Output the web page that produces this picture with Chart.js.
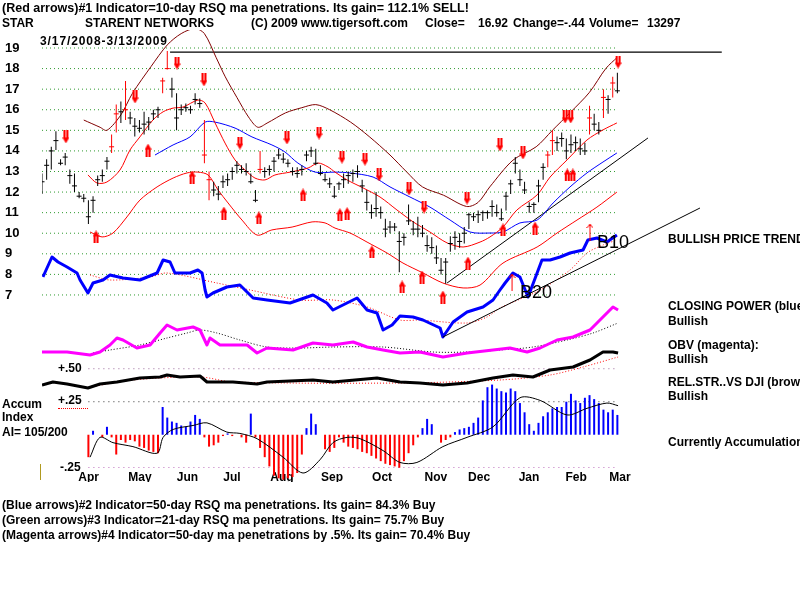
<!DOCTYPE html>
<html>
<head>
<meta charset="utf-8">
<script src="https://cdn.jsdelivr.net/npm/chart.js@4.4.0/dist/chart.umd.min.js"></script>
<style>
  body { margin: 0; background: #fff; }
  #wrap { position: relative; width: 800px; height: 600px; overflow: hidden; }
  canvas { position: absolute; left: 0; top: 0; }
  .t { position: absolute; font: bold 12px "Liberation Sans", Arial, sans-serif; line-height: 14px; white-space: pre; color: #000; }
  .big { position: absolute; font: 18px "Liberation Sans", Arial, sans-serif; line-height: 20px; color: #000; }
</style>
</head>
<body>
<div id="wrap">
  <canvas id="chart" width="800" height="600"></canvas>

  <div class="t" style="left:2px;top:1px;font-size:12.5px">(Red arrows)#1 Indicator=10-day RSQ ma penetrations. Its gain= 112.1% SELL!</div>
  <div class="t" style="left:2px;top:16px">STAR</div>
  <div class="t" style="left:85px;top:16px">STARENT NETWORKS</div>
  <div class="t" style="left:251px;top:16px">(C) 2009 www.tigersoft.com</div>
  <div class="t" style="left:425px;top:16px">Close=</div>
  <div class="t" style="left:478px;top:16px">16.92</div>
  <div class="t" style="left:513px;top:16px">Change=-.44</div>
  <div class="t" style="left:589px;top:16px">Volume=</div>
  <div class="t" style="left:647px;top:16px">13297</div>
  <div class="t" style="left:40px;top:34px;letter-spacing:0.9px">3/17/2008-3/13/2009</div>

  <div class="big" style="left:597px;top:232px">B10</div>
  <div class="big" style="left:520px;top:282px">B20</div>

  <div class="t" style="left:668px;top:232px">BULLISH PRICE TREND</div>
  <div class="t" style="left:668px;top:299px">CLOSING POWER (blue)</div>
  <div class="t" style="left:668px;top:314px">Bullish</div>
  <div class="t" style="left:668px;top:338px">OBV (magenta):</div>
  <div class="t" style="left:668px;top:352px">Bullish</div>
  <div class="t" style="left:668px;top:375px">REL.STR..VS DJI (brown)</div>
  <div class="t" style="left:668px;top:389px">Bullish</div>
  <div class="t" style="left:668px;top:435px">Currently Accumulation</div>

  <div class="t" style="left:2px;top:397px">Accum</div>
  <div class="t" style="left:2px;top:410px">Index</div>
  <div class="t" style="left:2px;top:425px">AI= 105/200</div>
  <div class="t" style="left:58px;top:361px">+.50</div>
  <div class="t" style="left:58px;top:393px">+.25</div>
  <div class="t" style="left:60px;top:460px">-.25</div>
  <div style="position:absolute;left:58px;top:408px;width:30px;border-top:1px dotted #ff0000"></div>
  <div style="position:absolute;left:40px;top:464px;width:1px;height:16px;background:#b09a20"></div>

  <div class="t" style="left:2px;top:498px">(Blue arrows)#2 Indicator=50-day RSQ ma penetrations. Its gain= 84.3% Buy</div>
  <div class="t" style="left:2px;top:513px">(Green arrows)#3 Indicator=21-day RSQ ma penetrations. Its gain= 75.7% Buy</div>
  <div class="t" style="left:2px;top:528px">(Magenta arrows)#4 Indicator=50-day ma penetrations by .5%. Its gain= 70.4% Buy</div>
</div>

<script>
// x is the trading-day index from 3/17/2008 (0) to 3/13/2009 (~249)
const monthLabels = ['Apr', 'May', 'Jun', 'Jul', 'Aug', 'Sep', 'Oct', 'Nov', 'Dec', 'Jan', 'Feb', 'Mar'];
const monthTicks = [20.1, 42.2, 62.7, 81.9, 103.4, 125, 146.6, 169.8, 188.4, 209.9, 230.2, 249.1];
const priceTicks = [7, 8, 9, 10, 11, 12, 13, 14, 15, 16, 17, 18, 19];

// daily bars, one every 2 trading days
const highs = [
  12.9, 13.6, 14.2, 14.95, 13.6, 13.9, 13.1, 12.9, 12.0, 11.9,
  11.6, 11.8, 12.8, 13.1, 13.7, 14.8, 16.25, 16.4, 17.4, 15.9,
  15.6, 15.5, 15.9, 15.65, 16.0, 16.15, 17.55, 18.85, 17.55, 16.8,
  16.25, 16.3, 16.2, 16.8, 16.55, 15.5, 13.0, 12.5, 12.3, 12.8,
  12.9, 13.2, 13.5, 13.3, 13.4, 12.9, 12.1, 14.0, 13.2, 13.3,
  13.7, 14.1, 13.9, 13.6, 13.2, 13.2, 13.3, 14.0, 14.2, 14.1,
  13.3, 12.9, 12.7, 12.3, 12.5, 12.9, 13.0, 13.1, 13.3, 12.6,
  12.1, 11.4, 12.0, 11.3, 10.7, 10.6, 10.5, 10.1, 10.0, 11.4,
  10.6, 10.8, 10.4, 9.9, 9.8, 9.4, 8.8, 8.8, 9.85, 10.1,
  10.0, 10.3, 11.0, 11.0, 11.1, 11.1, 11.1, 11.6, 11.4, 11.2,
  12.0, 12.6, 13.7, 13.1, 12.5, 11.5, 11.5, 12.6, 13.4, 14.0,
  15.0, 14.7, 14.9, 14.6, 14.8, 14.7, 14.6, 14.4, 16.2, 15.8,
  15.4, 17.0, 16.7, 17.6, 17.8
];
const lows = [
  11.9, 12.6, 13.1, 14.05, 13.3, 13.3, 12.4, 12.0, 11.7, 11.5,
  10.45, 11.0, 12.3, 12.5, 13.1, 13.9, 14.9, 15.35, 15.5, 15.3,
  14.7, 14.9, 14.8, 15.0, 15.5, 15.6, 16.8, 17.95, 16.6, 15.0,
  15.75, 15.9, 15.8, 16.25, 16.1, 13.4, 11.6, 11.8, 11.6, 12.2,
  12.3, 12.6, 12.9, 12.9, 12.8, 12.4, 11.5, 12.9, 12.7, 12.8,
  13.0, 13.6, 13.4, 13.2, 12.8, 12.7, 12.8, 13.5, 13.7, 13.3,
  12.8, 12.5, 12.2, 11.7, 12.1, 12.2, 12.4, 12.5, 12.7, 12.0,
  11.1, 10.7, 10.8, 10.7, 9.8, 10.0, 10.1, 8.1, 9.4, 10.4,
  9.9, 9.8, 9.8, 9.1, 9.0, 8.5, 8.0, 7.55, 9.1, 9.2,
  9.3, 9.5, 10.2, 10.6, 10.5, 10.6, 10.7, 10.8, 10.8, 10.6,
  11.1, 11.9, 12.9, 12.3, 11.9, 11.0, 11.0, 11.5, 12.6, 13.2,
  13.8, 14.0, 14.2, 13.6, 13.9, 14.0, 13.8, 13.8, 14.8, 15.0,
  14.8, 15.6, 15.8, 16.6, 16.8
];
const closes = [
  12.5, 13.3, 14.0, 14.5, 13.4, 13.7, 12.8, 12.3, 11.8, 11.7,
  10.8, 11.6, 12.6, 12.8, 13.5, 14.2, 15.8, 15.9, 16.0, 15.6,
  15.2, 15.1, 15.3, 15.4, 15.8, 16.0, 17.4, 18.0, 17.0, 15.6,
  16.0, 16.1, 16.0, 16.5, 16.3, 13.8, 12.6, 12.1, 11.9, 12.5,
  12.6, 13.0, 13.3, 13.1, 13.0, 12.5, 11.6, 13.1, 13.0, 13.1,
  13.5, 13.8, 13.6, 13.4, 13.0, 12.9, 13.1, 13.8, 14.0, 13.4,
  12.9, 12.6, 12.4, 11.8, 12.4, 12.6, 12.8, 12.9, 13.0, 12.3,
  11.5, 11.0, 11.2, 11.0, 10.2, 10.3, 10.3, 9.6, 9.8, 10.6,
  10.2, 10.2, 10.0, 9.4, 9.3, 8.8, 8.2, 8.6, 9.5, 9.8,
  9.6, 10.0, 10.9, 10.8, 10.9, 11.0, 11.0, 11.3, 11.0, 10.7,
  11.8, 12.4, 13.4, 12.6, 12.1, 11.3, 11.4, 12.3, 13.2, 13.8,
  14.5, 14.4, 14.6, 14.0, 14.3, 14.4, 14.1, 14.0, 15.6, 15.3,
  15.0, 16.6, 16.5, 17.3, 16.92
];
const redBars = [30, 32, 36, 52, 54, 70, 72, 94, 218, 220, 236, 242, 246];

// bands and moving averages, [day, price]
const upperBand = [[18, 15.5], [25, 15.15], [28, 15.0], [34, 15.75], [39, 16.8], [47, 18.1], [54, 19.15], [60, 19.7], [66, 19.95], [70, 19.7], [75, 18.55], [79, 17.6], [84, 16.6], [89, 15.65], [93, 15.15], [97, 15.35], [105, 15.85], [112, 16.1], [118, 16.25], [124, 16.0], [133, 15.4], [141, 14.7], [150, 13.8], [157, 13.0], [164, 12.25], [173, 11.85], [183, 11.3], [188, 11.5], [193, 12.25], [203, 13.55], [213, 14.2], [220, 15.0], [228, 15.9], [236, 16.85], [243, 18.0], [248, 18.55]];
const midBand = [[19.8, 12.83], [23.7, 12.44], [28, 12.49], [33.6, 13.07], [37.9, 14.04], [42.2, 14.68], [47.8, 15.5], [52.2, 15.9], [56.5, 16.08], [60.8, 16.13], [67.2, 16.47], [70.3, 16.33], [74.6, 15.36], [78.9, 14.38], [83.2, 13.56], [87.5, 13.07], [91.8, 12.68], [96.1, 12.59], [100.4, 12.83], [107, 12.97], [114.7, 13.17], [119, 13.41], [123.3, 13.22], [126.3, 12.97], [131.5, 12.59], [138.4, 12.2], [145.7, 11.76], [153, 11.13], [160, 10.55], [167.2, 10.06], [174.6, 9.53], [181.5, 9.33], [188.8, 9.57], [193.1, 9.82], [198.7, 10.3], [204.7, 11.13], [213.4, 11.86], [219, 12.73], [226.3, 13.56], [234.9, 14.53], [241.8, 15.02], [247.8, 15.36]];
const lowerBand = [[20.7, 10.06], [25.9, 9.82], [30.6, 10.01], [36.6, 10.79], [42.2, 11.61], [49.6, 12.25], [56.5, 12.68], [62.5, 12.93], [67.2, 12.97], [71.6, 12.83], [75.9, 12.1], [80.2, 11.47], [86.2, 10.64], [92.7, 9.91], [99.1, 10.16], [107.8, 10.3], [116.4, 10.55], [122, 10.5], [126.3, 10.25], [132.8, 10.01], [140.1, 9.57], [148.7, 9.04], [155.6, 8.55], [164.2, 8.07], [172.8, 7.58], [181.5, 7.34], [188.8, 7.48], [198.7, 8.55], [213.4, 9.33], [222, 10.01], [230.6, 10.64], [239.2, 11.27], [247.8, 12.0]];
const ma50 = [[48.7, 13.8], [56.5, 14.29], [63.8, 14.68], [70.3, 15.4], [74.6, 15.4], [83.2, 15.11], [90.5, 14.68], [99.1, 14.29], [104.7, 13.95], [110.3, 13.41], [117.7, 12.97], [126.3, 12.97], [132.8, 12.93], [142.7, 12.73], [150, 12.25], [158.6, 11.76], [167.2, 11.27], [175.9, 10.64], [184.5, 10.06], [193.1, 10.01], [198.7, 10.06], [206, 10.5], [213.4, 10.64], [220.3, 11.47], [227.6, 12.25], [234.9, 12.93], [241.8, 13.46], [247.8, 13.9]];

// indicators, [day, value]
const closingPower = [[0.4, 73], [4.3, 93], [6.9, 88], [10.8, 83], [15.1, 77], [16.4, 70], [19.8, 57], [22, 67], [26.3, 70], [29.3, 75], [34.9, 72], [42.2, 70], [49.6, 77], [52.2, 90], [55.2, 88], [57.3, 77], [63.8, 77], [67.2, 80], [69, 77], [70.3, 60], [71.1, 53], [73.7, 57], [79.7, 63], [85.3, 65], [91, 52], [97, 50], [106.9, 47], [116.8, 55], [122.8, 47], [125.4, 40], [135.8, 52], [140.1, 40], [144.4, 37], [147, 20], [150.9, 25], [154.3, 34], [159.9, 33], [164.2, 30], [171.6, 22], [172.8, 13], [177.2, 28], [183.2, 38], [190.1, 43], [194.4, 50], [197.4, 60], [199.6, 67], [203, 77], [206, 73], [209.5, 53], [213.4, 77], [215.5, 90], [219, 90], [223.3, 93], [227.6, 97], [233.2, 100], [235.3, 110], [239.2, 112], [243.5, 108], [247.8, 115]];
const closingPowerMa = [[20.7, 75], [29.3, 70], [46.6, 73], [53.9, 77], [75.4, 67], [89.7, 60], [111.2, 50], [125.4, 50], [140.1, 43], [154.3, 30], [162.9, 30], [183.2, 27], [191.8, 33], [197.4, 42], [214.7, 60], [227.6, 80], [234.9, 97], [241.8, 105], [247.8, 110]];
const obv = [[0, 18], [10.8, 18], [20.7, 15], [25, 18], [29.3, 25], [32.3, 32], [34.9, 30], [40.9, 22], [46.6, 25], [50.9, 37], [53.9, 45], [58.2, 40], [65.1, 43], [68.1, 40], [71.1, 25], [72.4, 32], [76.7, 25], [88.4, 25], [92.7, 17], [97, 22], [108.2, 20], [116.8, 27], [125.4, 25], [134.1, 28], [140.1, 23], [147, 20], [154.3, 17], [162.9, 18], [172.8, 13], [183.2, 17], [194.4, 20], [201.7, 22], [209.1, 18], [214.7, 22], [222, 30], [228.9, 33], [236.2, 40], [240.5, 50], [246.1, 63], [248.3, 60]];
const obvMa = [[22, 17], [29.3, 20], [42.2, 25], [53.9, 32], [62.5, 37], [68.1, 40], [75.4, 37], [85.3, 30], [97, 23], [111.2, 22], [125.4, 23], [147, 23], [168.5, 18], [183.2, 18], [197.4, 20], [211.6, 23], [226.3, 30], [237.5, 37], [248.3, 47]];
const relStr = [[0, 15], [4.7, 18], [10.8, 16], [19.8, 12], [25, 16], [32.3, 18], [42.2, 22], [50.9, 23], [53.9, 25], [59.5, 23], [68.1, 24], [71.1, 18], [82.3, 18], [92.7, 16], [97, 18], [116.8, 20], [125.4, 18], [144.4, 22], [154.3, 18], [162.9, 17], [172.8, 15], [183.2, 17], [194.4, 22], [203, 25], [211.6, 23], [219, 30], [228.9, 33], [236.2, 40], [241.8, 48], [246.1, 48], [248.3, 47]];
const relStrMa = [[20.7, 13], [39.2, 20], [68.1, 23], [82.3, 18], [154.3, 17], [197.4, 20], [219, 25], [233.2, 33], [248.3, 43]];

// accumulation index, every 2 days from day 20
const accumStart = 20;
const accum = [
  -0.17, 0.03, 0.0, -0.02, 0.06, -0.02, -0.15, -0.04, -0.06, -0.04,
  -0.05, -0.09, -0.10, -0.12, -0.13, -0.14, 0.21, 0.13, 0.10, 0.09,
  0.07, 0.06, 0.10, 0.15, 0.12, -0.02, -0.09, -0.08, -0.06, -0.01,
  0.01, -0.01, 0.0, -0.02, -0.06, 0.16, -0.02, -0.10, -0.17, -0.24,
  -0.31, -0.33, -0.34, -0.33, -0.32, -0.29, -0.15, 0.05, 0.16, 0.08,
  0.0, -0.11, -0.13, -0.10, -0.02, -0.06, -0.09, -0.10, -0.11, -0.13,
  -0.14, -0.16, -0.18, -0.20, -0.22, -0.23, -0.24, -0.25, -0.20, -0.14,
  -0.08, -0.02, 0.05, 0.12, 0.08, 0.0, -0.06, -0.04, -0.02, 0.02,
  0.04, 0.05, 0.06, 0.09, 0.13, 0.26, 0.36, 0.38, 0.35, 0.33,
  0.32, 0.35, 0.33, 0.24, 0.17, 0.08, 0.03, 0.09, 0.14, 0.17,
  0.20, 0.21, 0.21, 0.25, 0.31, 0.26, 0.24, 0.28, 0.30, 0.27,
  0.24, 0.19, 0.17, 0.19, 0.15
];
const accumMa = [[20.7, -0.17], [25, -0.02], [30.6, -0.06], [39.2, -0.09], [49.6, -0.14], [52.2, -0.02], [56.5, 0.04], [65.1, 0.07], [71.1, 0.09], [79.7, 0.02], [85.3, 0.01], [92.7, -0.03], [103.9, -0.17], [112.5, -0.29], [119.8, -0.19], [125.4, -0.06], [131.5, -0.02], [137.1, -0.03], [147, -0.12], [154.3, -0.21], [161.6, -0.21], [172.8, -0.09], [183.2, -0.02], [194.4, 0.06], [206, 0.28], [214.7, 0.26], [226.3, 0.15], [234.9, 0.2], [243.5, 0.24], [248.3, 0.22]];
const accumLevels = [0.5, 0.25, -0.25];

// signal arrows [day, price]; thin arrows sit on the closing power line
const downArrows = [[10.3, 14.68], [40.1, 16.62], [58.2, 18.27], [69.8, 17.45], [85.3, 14.38], [105.6, 14.63], [119.4, 14.87], [129.3, 13.7], [139.2, 13.6], [145.3, 12.83], [158.2, 12.15], [164.7, 11.27], [183.2, 11.71], [197.4, 14.29], [207.3, 13.9], [225.5, 15.65], [227.9, 15.65], [248.3, 18.32]];
const upArrows = [[23.3, 9.82], [45.7, 14.04], [64.7, 12.73], [78.4, 10.98], [93.5, 10.74], [112.5, 11.86], [128.4, 10.9], [131.5, 10.95], [142.2, 9.09], [155.2, 7.39], [163.8, 7.87], [172.8, 6.9], [183.6, 8.55], [198.7, 10.16], [212.5, 10.25], [226.4, 12.83], [228.8, 12.83]];
const thinUpArrows = [[202.6, 68], [236.2, 118]];

// hand drawn trend lines
const resistanceLine = [[55.2, 18.8], [293, 18.8]];
const priceTrendLine = [[174.6, 7.58], [261.2, 14.63]];
const cpTrendLine = [[172.8, 13], [283.6, 142]];

const pts = arr => arr.map(([x, y]) => ({ x, y }));
const days = highs.map((_, k) => k * 2);

function arrowImage(up) {
  const c = document.createElement('canvas');
  c.width = 7; c.height = 13;
  const g = c.getContext('2d');
  g.fillStyle = '#ff0000';
  g.beginPath();
  if (up) {
    g.moveTo(3.5, 0); g.lineTo(7, 6); g.lineTo(0, 6);
    g.fill();
    g.fillRect(1, 5, 5, 8);
    g.fillStyle = '#ffc8c8';
    g.fillRect(3, 6, 1, 7);
  } else {
    g.moveTo(0, 7); g.lineTo(7, 7); g.lineTo(3.5, 13);
    g.fill();
    g.fillRect(1, 0, 5, 8);
    g.fillStyle = '#ffc8c8';
    g.fillRect(3, 0, 1, 7);
  }
  return c;
}

function thinArrowImage() {
  const c = document.createElement('canvas');
  c.width = 7; c.height = 18;
  const g = c.getContext('2d');
  g.strokeStyle = '#ff0000';
  g.lineWidth = 1;
  g.beginPath();
  g.moveTo(3.5, 1); g.lineTo(3.5, 18);
  g.moveTo(0.5, 5); g.lineTo(3.5, 1); g.lineTo(6.5, 5);
  g.stroke();
  return c;
}

const barColor = d => redBars.includes(d) ? '#ff0000' : '#000000';

const gridData = priceTicks.flatMap(p => [{ x: 0, y: p }, { x: 247.8, y: p }, { x: 247.9, y: null }]);
const accumGrid = accumLevels.map(v => [{ x: 20, y: v }, { x: 248.3, y: v }]);

const line = (data, axis, color, width, extra) => Object.assign({
  type: 'line', data, yAxisID: axis, borderColor: color, borderWidth: width,
  pointRadius: 0, fill: false, tension: 0
}, extra || {});

Chart.defaults.font.family = '"Liberation Sans", Arial, sans-serif';

new Chart(document.getElementById('chart'), {
  type: 'line',
  data: {
    datasets: [
      {
        type: 'line', showLine: false, yAxisID: 'y',
        data: pts(downArrows), pointStyle: arrowImage(false), pointRadius: 5
      },
      {
        type: 'line', showLine: false, yAxisID: 'y',
        data: pts(upArrows), pointStyle: arrowImage(true), pointRadius: 5
      },
      {
        type: 'line', showLine: false, yAxisID: 'yCP',
        data: pts(thinUpArrows), pointStyle: thinArrowImage(), pointRadius: 5
      },
      {
        type: 'line', showLine: false, yAxisID: 'y',
        data: days.map((d, k) => ({ x: d, y: closes[k] })),
        pointStyle: 'line', pointRadius: 2.5, pointBorderWidth: 1,
        pointBorderColor: days.map(barColor)
      },
      {
        type: 'bar', yAxisID: 'y', grouped: false, barThickness: 1, inflateAmount: 0,
        data: days.map((d, k) => ({ x: d, y: [lows[k], highs[k]] })),
        backgroundColor: days.map(barColor), borderWidth: 0
      },
      line(pts(upperBand), 'y', '#800000', 1, { tension: 0.3 }),
      line(pts(midBand), 'y', '#ff0000', 1, { tension: 0.3 }),
      line(pts(lowerBand), 'y', '#ff0000', 1, { tension: 0.3 }),
      line(pts(ma50), 'y', '#0000ff', 1, { tension: 0.3 }),
      line(pts(resistanceLine), 'y', '#000000', 1.2),
      line(pts(priceTrendLine), 'y', '#000000', 1),
      line(pts(cpTrendLine), 'yCP', '#000000', 1),
      line(pts(closingPower), 'yCP', '#0000ff', 3, { borderJoinStyle: 'round' }),
      line(pts(closingPowerMa), 'yCP', '#ff0000', 1, { borderDash: [1, 2], tension: 0.3 }),
      line(pts(obv), 'yOBV', '#ff00ff', 3, { borderJoinStyle: 'round' }),
      line(pts(obvMa), 'yOBV', '#000000', 1, { borderDash: [1, 2], tension: 0.3 }),
      line(pts(relStr), 'yRS', '#000000', 3, { borderJoinStyle: 'round' }),
      line(pts(relStrMa), 'yRS', '#ff0000', 1, { borderDash: [1, 2], tension: 0.3 }),
      line(pts(accumMa), 'yAI', '#000000', 1, { tension: 0.3, clip: false }),
      {
        type: 'bar', yAxisID: 'yAI', grouped: false, barThickness: 2, inflateAmount: 0, clip: false,
        data: accum.map((v, k) => ({ x: accumStart + k * 2, y: v })),
        backgroundColor: accum.map(v => v >= 0 ? '#0000ff' : '#ff0000'), borderWidth: 0
      },
      line(accumGrid[0], 'yAI', '#996699', 1, { borderDash: [1, 4] }),
      line(accumGrid[1], 'yAI', '#333333', 1, { borderDash: [1, 4] }),
      line(accumGrid[2], 'yAI', '#aa44aa', 1, { borderDash: [1, 4] }),
      line(gridData, 'y', '#2f9a2f', 1, { borderDash: [1, 3], spanGaps: false })
    ]
  },
  options: {
    responsive: false,
    animation: false,
    layout: { padding: { left: 5, right: 78, top: 30, bottom: 118 } },
    plugins: { legend: { display: false }, tooltip: { enabled: false } },
    scales: {
      x: {
        type: 'linear', min: 0, max: 293.1, bounds: 'data', offset: false,
        grid: { display: false, drawTicks: false, offset: false }, border: { display: false },
        ticks: {
          autoSkip: false, maxRotation: 0, padding: 2, color: '#000',
          font: { size: 12, weight: 'bold' },
          callback: v => monthLabels[monthTicks.indexOf(v)]
        },
        afterBuildTicks: s => { s.ticks = monthTicks.map(v => ({ value: v })); },
        afterFit: s => { s.height = 14; }
      },
      y: {
        position: 'left', min: -1.408, max: 19.875, bounds: 'data',
        grid: { display: false, drawTicks: false }, border: { display: false },
        ticks: { crossAlign: 'far', padding: 0, color: '#000', font: { size: 13, weight: 'bold' } },
        afterBuildTicks: s => { s.ticks = priceTicks.map(v => ({ value: v })); },
        afterFit: s => { s.width = 37; }
      },
      yCP: { display: false, min: -118, max: 320 },
      yOBV: { display: false, min: -98, max: 340 },
      yRS: { display: false, min: -68, max: 370 },
      yAI: { display: false, min: -0.252, max: 3.066 }
    }
  }
});
</script>
</body>
</html>
